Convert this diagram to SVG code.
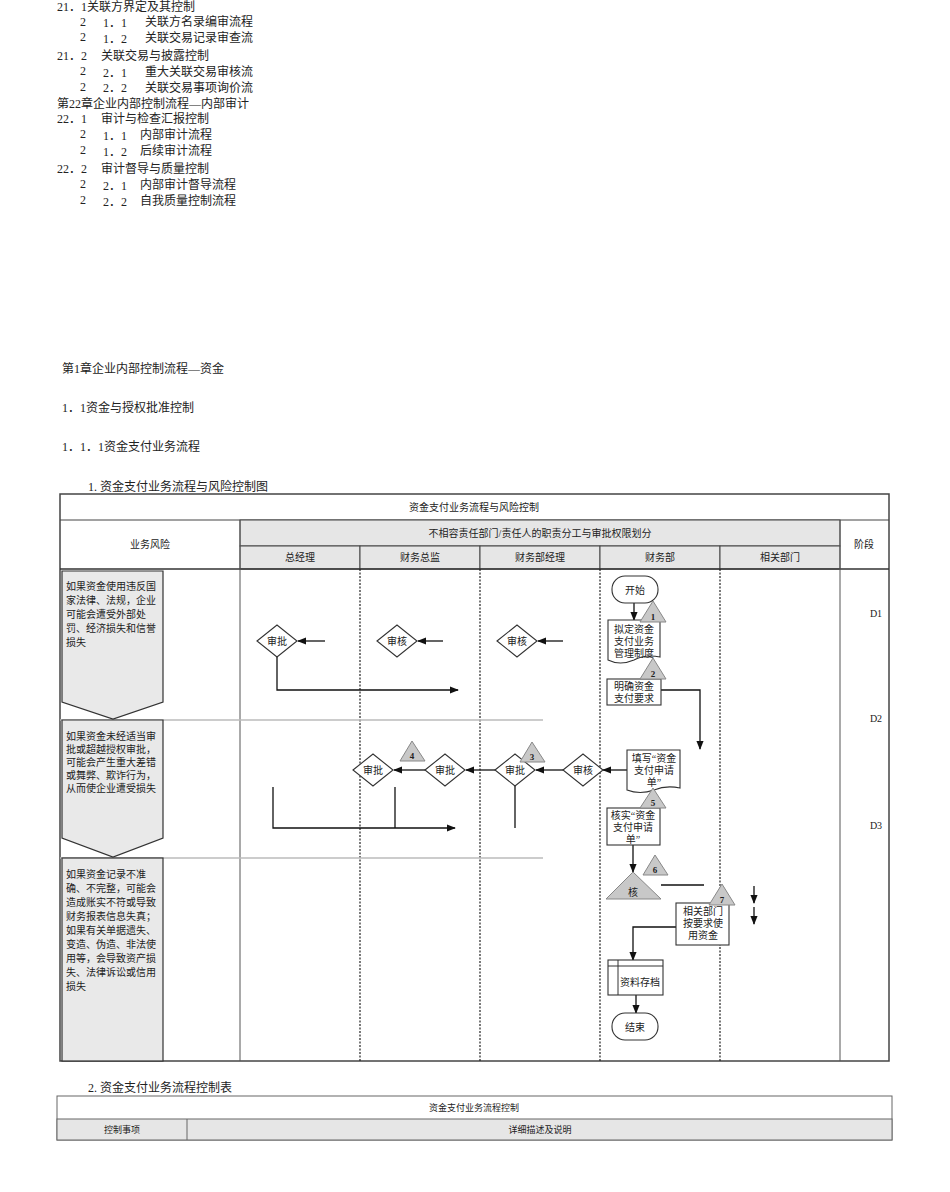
<svg xmlns="http://www.w3.org/2000/svg" width="950" height="1192" viewBox="0 0 950 1192">
<style>
text{font-family:"Liberation Serif","Noto Sans CJK SC",serif;fill:#222}
.t{font-size:12px}
.s{font-size:10px}
.c{text-anchor:middle}
.ln{stroke:#111;stroke-width:1.3;fill:none}
.dash{stroke:#222;stroke-width:1.2;stroke-dasharray:2,1.5}
.hdr{fill:#e6e6e6;stroke:#444;stroke-width:1}
.box{fill:#fff;stroke:#333;stroke-width:1.1}
.tri{fill:#c8c8c8;stroke:#888;stroke-width:1}
.risk{fill:#e9e9e9;stroke:#333;stroke-width:1.2}
.n{font-size:9px;font-weight:bold;text-anchor:middle}
</style>
<defs><marker id="a" viewBox="0 0 10 10" refX="9" refY="5" markerWidth="7" markerHeight="7" orient="auto"><path d="M0,1 L10,5 L0,9z" fill="#111"/></marker></defs>
<g id="toc" class="t">
<text x="57" y="11">21．1关联方界定及其控制</text>
<text x="80" y="26">2</text><text x="103" y="27">1．1</text><text x="145" y="26">关联方名录编审流程</text>
<text x="80" y="41">2</text><text x="103" y="43">1．2</text><text x="145" y="42">关联交易记录审查流</text>
<text x="57" y="60">21．2</text><text x="101" y="60">关联交易与披露控制</text>
<text x="80" y="75">2</text><text x="103" y="77">2．1</text><text x="145" y="76">重大关联交易审核流</text>
<text x="80" y="91">2</text><text x="103" y="92">2．2</text><text x="145" y="92">关联交易事项询价流</text>
<text x="57" y="108">第22章企业内部控制流程—内部审计</text>
<text x="57" y="123">22．1</text><text x="101" y="123">审计与检查汇报控制</text>
<text x="80" y="138">2</text><text x="103" y="140">1．1</text><text x="140" y="139">内部审计流程</text>
<text x="80" y="154">2</text><text x="103" y="156">1．2</text><text x="140" y="155">后续审计流程</text>
<text x="57" y="173">22．2</text><text x="101" y="173">审计督导与质量控制</text>
<text x="80" y="188">2</text><text x="103" y="190">2．1</text><text x="140" y="189">内部审计督导流程</text>
<text x="80" y="204">2</text><text x="103" y="206">2．2</text><text x="140" y="205">自我质量控制流程</text>
<text x="62" y="373">第1章企业内部控制流程—资金</text>
<text x="62" y="412">1．1资金与授权批准控制</text>
<text x="62" y="451">1．1．1资金支付业务流程</text>
<text x="88" y="491">1. 资金支付业务流程与风险控制图</text>
<text x="88" y="1092">2. 资金支付业务流程控制表</text>
</g>
<g id="frame">
<rect x="60" y="494" width="829" height="567" fill="#fff" stroke="#444" stroke-width="1.5"/>
<line x1="60" y1="520" x2="889" y2="520" stroke="#444"/>
<text class="s c" x="474" y="511">资金支付业务流程与风险控制</text>
<rect class="hdr" x="240" y="520" width="600" height="26"/>
<rect class="hdr" x="240" y="546" width="120" height="23"/><rect class="hdr" x="360" y="546" width="120" height="23"/><rect class="hdr" x="480" y="546" width="120" height="23"/><rect class="hdr" x="600" y="546" width="120" height="23"/><rect class="hdr" x="720" y="546" width="120" height="23"/>
<text class="s c" x="540" y="537">不相容责任部门/责任人的职责分工与审批权限划分</text>
<text class="s c" x="300" y="561">总经理</text><text class="s c" x="420" y="561">财务总监</text><text class="s c" x="540" y="561">财务部经理</text><text class="s c" x="660" y="561">财务部</text><text class="s c" x="780" y="561">相关部门</text>
<text class="s c" x="864" y="548">阶段</text>
<text class="s c" x="150" y="548">业务风险</text>
<line x1="60" y1="569" x2="889" y2="569" stroke="#333" stroke-width="1.5"/>
<line x1="240" y1="520" x2="240" y2="1061" stroke="#555"/>
<line x1="840" y1="520" x2="840" y2="1061" stroke="#555"/>
<line class="dash" x1="360" y1="569" x2="360" y2="1061"/><line class="dash" x1="480" y1="569" x2="480" y2="1061"/><line class="dash" x1="600" y1="569" x2="600" y2="1061"/><line class="dash" x1="720" y1="569" x2="720" y2="1061"/>
<line x1="60" y1="720" x2="543" y2="720" stroke="#bbb" stroke-width="1.5"/>
<line x1="60" y1="858" x2="543" y2="858" stroke="#bbb" stroke-width="1.5"/>
<text class="s c" x="876" y="617">D1</text><text class="s c" x="876" y="722">D2</text><text class="s c" x="876" y="829">D3</text>
</g>
<g id="risks" style="font-size:10px">
<path class="risk" d="M62,571 H163 V702 L113,719 L62,702Z"/>
<path class="risk" d="M62,720 H163 V838 L113,857 L62,838Z"/>
<rect class="risk" x="62" y="858" width="101" height="203"/>
<text x="66" y="590">如果资金使用违反国</text><text x="66" y="604">家法律、法规，企业</text><text x="66" y="618">可能会遭受外部处</text><text x="66" y="632">罚、经济损失和信誉</text><text x="66" y="646">损失</text>
<text x="66" y="740">如果资金未经适当审</text><text x="66" y="753">批或超越授权审批，</text><text x="66" y="766">可能会产生重大差错</text><text x="66" y="779">或舞弊、欺诈行为，</text><text x="66" y="792">从而使企业遭受损失</text>
<text x="66" y="878">如果资金记录不准</text><text x="66" y="892">确、不完整，可能会</text><text x="66" y="906">造成账实不符或导致</text><text x="66" y="920">财务报表信息失真；</text><text x="66" y="934">如果有关单据遗失、</text><text x="66" y="948">变造、伪造、非法使</text><text x="66" y="962">用等，会导致资产损</text><text x="66" y="976">失、法律诉讼或信用</text><text x="66" y="990">损失</text>
</g>
<g id="connectors">
<line class="ln" x1="325" y1="641" x2="298" y2="641" marker-end="url(#a)"/>
<line class="ln" x1="443" y1="641" x2="418" y2="641" marker-end="url(#a)"/>
<line class="ln" x1="563" y1="641" x2="538" y2="641" marker-end="url(#a)"/>
<polyline class="ln" points="277,657 277,690 458,690" marker-end="url(#a)"/>
<line class="ln" x1="634" y1="603" x2="634" y2="620" marker-end="url(#a)"/>
<polyline class="ln" points="661,690 700,690 700,749" marker-end="url(#a)"/>
<line class="ln" x1="627" y1="770" x2="603" y2="770" marker-end="url(#a)"/>
<line class="ln" x1="563" y1="770" x2="536" y2="770" marker-end="url(#a)"/>
<line class="ln" x1="495" y1="770" x2="466" y2="770" marker-end="url(#a)"/>
<line class="ln" x1="425" y1="770" x2="394" y2="770" marker-end="url(#a)"/>
<polyline class="ln" points="273,787 273,828 455,828" marker-end="url(#a)"/>
<line class="ln" x1="395" y1="787" x2="395" y2="828"/>
<line class="ln" x1="515" y1="786" x2="515" y2="828"/>
<line class="ln" x1="633" y1="845" x2="633" y2="872" marker-end="url(#a)"/>
<line class="ln" x1="661" y1="885" x2="704" y2="885"/>
<polyline class="ln" points="676,927 633,927 633,960" marker-end="url(#a)"/>
<line class="ln" x1="636" y1="995" x2="636" y2="1013" marker-end="url(#a)"/>
<line class="ln" x1="754" y1="886" x2="754" y2="903" marker-end="url(#a)"/>
<line class="ln" x1="754" y1="907" x2="754" y2="924" marker-end="url(#a)"/>
</g>
<g id="d1"><path class="box" d="M257,641 L277,625 L297,641 L277,657Z"/><text class="s c" x="277" y="645">审批</text></g>
<g id="d2"><path class="box" d="M377,641 L397,625 L417,641 L397,657Z"/><text class="s c" x="397" y="645">审核</text></g>
<g id="d3"><path class="box" d="M497,641 L517,625 L537,641 L517,657Z"/><text class="s c" x="517" y="645">审核</text></g>
<g id="d4"><path class="box" d="M353,770 L373,754 L393,770 L373,786Z"/><text class="s c" x="373" y="774">审批</text></g>
<g id="d5"><path class="box" d="M425,770 L445,754 L465,770 L445,786Z"/><text class="s c" x="445" y="774">审批</text></g>
<g id="d6"><path class="box" d="M495,770 L515,754 L535,770 L515,786Z"/><text class="s c" x="515" y="774">审批</text></g>
<g id="d7"><path class="box" d="M563,770 L583,754 L603,770 L583,786Z"/><text class="s c" x="583" y="774">审核</text></g>
<g id="t4"><path class="tri" d="M412,741 L425,761 L400,761Z"/><text class="n" x="412" y="759">4</text></g>
<g id="t3"><path class="tri" d="M532,742 L545,762 L520,762Z"/><text class="n" x="532" y="760">3</text></g>
<g id="start"><rect class="box" x="612" y="576" width="46" height="27" rx="13"/><text class="s c" x="635" y="594">开始</text></g>
<g id="doc1"><path class="box" d="M608,620 H660 V657 Q645,654 634,660 Q620,666 608,660Z"/><text class="s c" x="634" y="633">拟定资金</text><text class="s c" x="634" y="645">支付业务</text><text class="s c" x="634" y="657">管理制度</text></g>
<g id="t1"><path class="tri" d="M653,601 L666,622 L640,622Z"/><text class="n" x="653" y="620">1</text></g>
<g id="r2"><rect class="box" x="607" y="679" width="54" height="26"/><text class="s c" x="634" y="690">明确资金</text><text class="s c" x="634" y="702">支付要求</text></g>
<g id="t2"><path class="tri" d="M653,658 L666,679 L640,679Z"/><text class="n" x="653" y="677">2</text></g>
<g id="doc2"><path class="box" d="M627,750 H680 V788 Q666,785 654,790 Q640,795 627,790Z"/><text class="s c" x="654" y="762">填写“资金</text><text class="s c" x="654" y="774">支付申请</text><text class="s c" x="654" y="786">单”</text></g>
<g id="r5"><rect class="box" x="607" y="808" width="53" height="37"/><text class="s c" x="633" y="819">核实“资金</text><text class="s c" x="633" y="831">支付申请</text><text class="s c" x="633" y="843">单”</text></g>
<g id="t5"><path class="tri" d="M653,788 L666,808 L640,808Z"/><text class="n" x="653" y="806">5</text></g>
<g id="k"><path class="tri" d="M633,872 L661,899 L606,899Z"/><text class="s c" x="633" y="896">核</text></g>
<g id="t6"><path class="tri" d="M655,855 L668,875 L643,875Z"/><text class="n" x="655" y="873">6</text></g>
<g id="r7"><rect class="box" x="676" y="903" width="53" height="42"/><text class="s c" x="703" y="915">相关部门</text><text class="s c" x="703" y="927">按要求使</text><text class="s c" x="703" y="939">用资金</text></g>
<g id="t7"><path class="tri" d="M722,884 L735,905 L709,905Z"/><text class="n" x="722" y="903">7</text></g>
<g id="archive"><rect class="box" x="608" y="960" width="55" height="35"/><line x1="618" y1="960" x2="618" y2="995" stroke="#333"/><line x1="608" y1="966" x2="663" y2="966" stroke="#333"/><text class="s c" x="640" y="986">资料存档</text></g>
<g id="end"><rect class="box" x="612" y="1013" width="46" height="27" rx="13"/><text class="s c" x="635" y="1031">结束</text></g>
<g id="table2">
<rect x="57" y="1096" width="835" height="44" fill="#fff" stroke="#666"/>
<rect x="57" y="1119" width="835" height="21" fill="#e6e6e6" stroke="#666"/>
<line x1="187" y1="1119" x2="187" y2="1140" stroke="#666"/>
<text class="s c" x="474" y="1111" style="font-size:9px">资金支付业务流程控制</text>
<text class="s c" x="122" y="1133" style="font-size:9px">控制事项</text>
<text class="s c" x="540" y="1133" style="font-size:9px">详细描述及说明</text>
</g>
</svg>
